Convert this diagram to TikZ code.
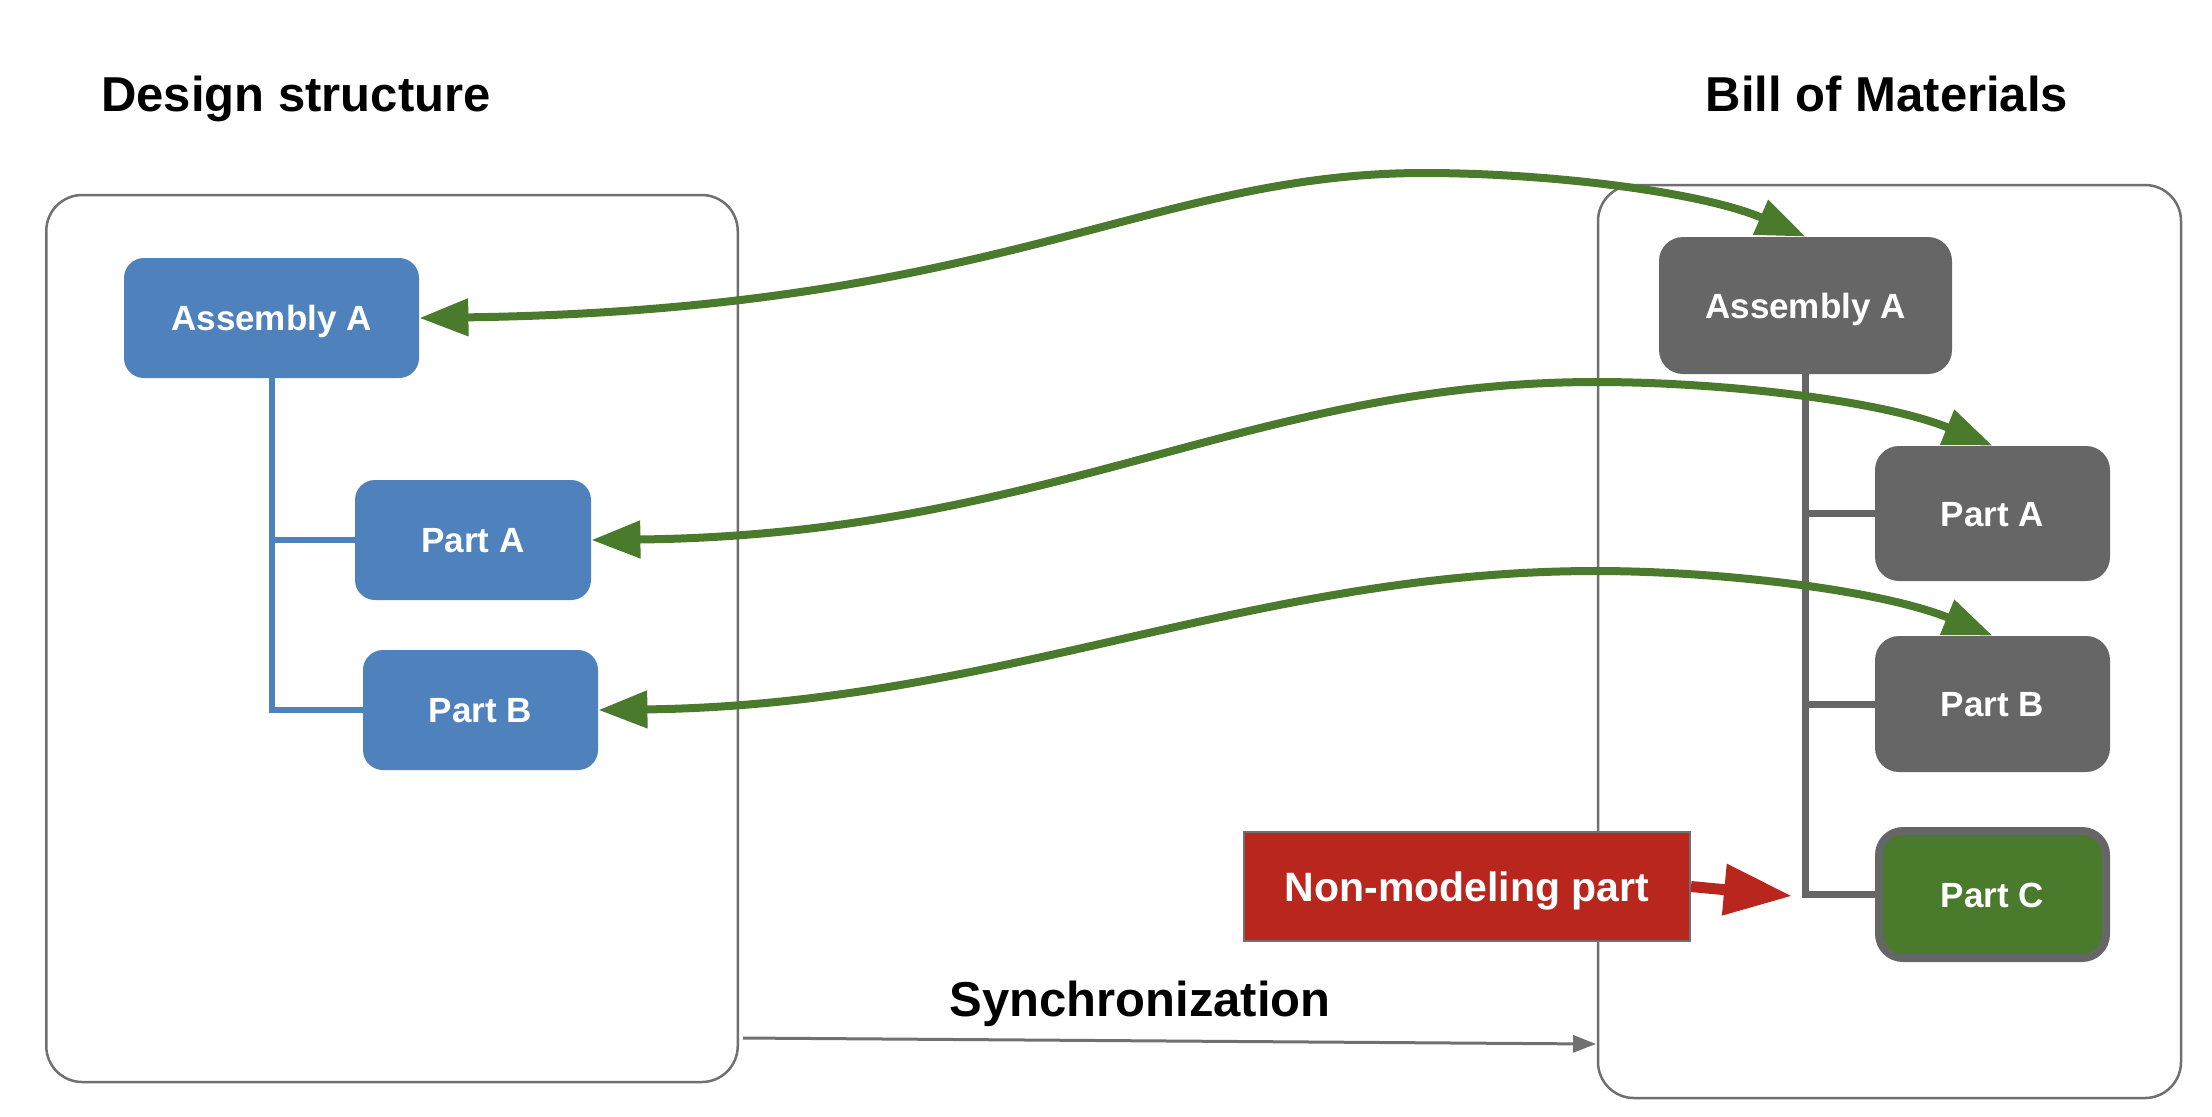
\documentclass[tikz,border=0pt]{standalone}
\usepackage{fontspec}
\setmainfont{Liberation Sans}
\usetikzlibrary{arrows.meta}
\definecolor{myblue}{HTML}{4F81BD}
\definecolor{mygray}{HTML}{666666}
\definecolor{framegray}{HTML}{707070}
\definecolor{mygreen}{HTML}{4A7A2B}
\definecolor{myred}{HTML}{B9261D}
\tikzset{
  frame/.style={draw=framegray, line width=1.25pt, rounded corners=18pt, inner sep=0pt},
  boxtext/.style={text=white, font=\bfseries\fontsize{17.5}{20}\selectfont, inner sep=0pt,
    text height=12.5pt, text depth=0pt},
  bluebox/.style={boxtext, fill=myblue, rounded corners=10pt},
  graybox/.style={boxtext, fill=mygray, rounded corners=12pt},
  greenbox/.style={boxtext, fill=mygreen, draw=mygray, line width=4pt, rounded corners=12pt},
  redbox/.style={boxtext, fill=myred, draw=framegray, line width=1pt,
    font=\bfseries\fontsize{20.5}{24}\selectfont, text height=14.7pt},
  title/.style={font=\bfseries\fontsize{24.5}{28}\selectfont, text=black, inner sep=0pt, anchor=base},
  bluetree/.style={draw=myblue, line width=3pt},
  graytree/.style={draw=mygray, line width=3.5pt},
  greenlink/.style={draw=mygreen, line width=4pt,
    {Triangle[length=24.5pt,width=18pt]}-{Triangle[length=24.5pt,width=18pt]}},
  redlink/.style={draw=myred, line width=5.5pt, -{Triangle[length=34pt,width=24.5pt]}},
  synclink/.style={draw=framegray, line width=1.5pt, -{Triangle[length=11.5pt,width=8.5pt]}}
}
\begin{document}
\begin{tikzpicture}[x=0.5pt,y=-0.5pt]
\useasboundingbox (0,0) rectangle (2212,1116);
% frames
\node[frame, minimum width=345.75pt, minimum height=443.5pt] (lf) at (392,638.5) {};
\node[frame, minimum width=291.5pt, minimum height=456.5pt] (rf) at (1889.5,641.5) {};
% titles
\node[title] (t1) at (296,111) {Design structure};
\node[title] (t2) at (1887,111) {Bill of Materials};
\node[title] (t3) at (1140,1016) {Synchronization};
% left tree
\node[bluebox, minimum width=147.5pt, minimum height=60pt] (la) at (271.5,318) {Assembly A};
\node[bluebox, minimum width=118pt, minimum height=60pt] (lpa) at (473,540) {Part A};
\node[bluebox, minimum width=117.5pt, minimum height=60pt] (lpb) at (480.5,710) {Part B};
\draw[bluetree] (la.south) |- (lpb.west);
\draw[bluetree] (la.south |- lpa.west) -- (lpa.west);
% right tree
\node[graybox, minimum width=146.5pt, minimum height=68.5pt] (ra) at (1805.5,305.5) {Assembly A};
\node[graybox, minimum width=117.5pt, minimum height=67.5pt] (rpa) at (1992.5,513.5) {Part A};
\node[graybox, minimum width=117.5pt, minimum height=68pt] (rpb) at (1992.5,704) {Part B};
\node[greenbox, minimum width=113.5pt, minimum height=63.5pt] (rpc) at (1992.5,894.5) {Part C};
\draw[graytree] (ra.south) |- (rpc.west);
\draw[graytree] (ra.south |- rpa.west) -- (rpa.west);
\draw[graytree] (ra.south |- rpb.west) -- (rpb.west);
% non-modeling part
\node[redbox, minimum width=223pt, minimum height=54.5pt] (nm) at (1467,886.5) {Non-modeling part};
\coordinate (rtip) at (1792,896);
\draw[redlink] (nm.east) -- (rtip);
% synchronization
\coordinate (s1) at (743,1038);
\coordinate (s2) at (1596,1044);
\draw[synclink] (s1) -- (s2);
% green links
\draw[greenlink] (la.east) .. controls (1000,310) and (1150,173) .. (1424,173)
  .. controls (1550,173) and (1702,192) .. (ra.north);
\draw[greenlink] (lpa.east) .. controls (1050,535) and (1250,382) .. (1596,382)
  .. controls (1720,382) and (1880,400) .. (rpa.north);
\draw[greenlink] (lpb.east) .. controls (1000,705) and (1250,571) .. (1596,571)
  .. controls (1720,571) and (1880,590) .. (rpb.north);
\end{tikzpicture}
\end{document}
